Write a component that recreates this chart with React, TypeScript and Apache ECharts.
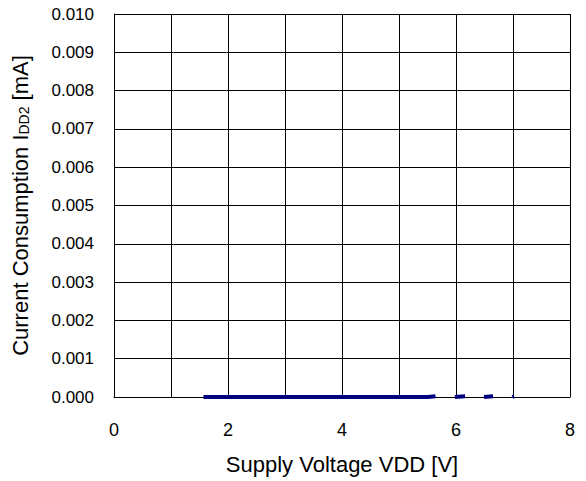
import React, { useEffect, useRef } from "react";
import * as echarts from "echarts";

const voltage = [1.57, 2, 3, 4, 5, 5.5, 5.64, null, 5.98, 6.16, null, 6.49, 6.65, null, 6.99, 7.02];
const current = [0, 0, 0, 0, 0, 0, 0.00002, null, 0, 0.00002, null, 0, 0.00002, null, 0, 0.00002];

export default function App() {
  const ref = useRef<HTMLDivElement>(null);
  useEffect(() => {
    const chart = echarts.init(ref.current!, null, { renderer: "svg" });
    const data = voltage.map((v, i) => (v === null ? [null, null] : [v, current[i]]));
    const font = "'Liberation Sans', Arial, sans-serif";
    chart.setOption({
      animation: false,
      backgroundColor: "#ffffff",
      grid: { left: 114, right: 16, top: 14, bottom: 84 },
      xAxis: {
        type: "value",
        min: 0,
        max: 8,
        interval: 1,
        name: "Supply Voltage VDD [V]",
        nameLocation: "middle",
        nameGap: 56,
        nameTextStyle: { fontFamily: font, fontSize: 22, color: "#000" },
        axisLine: { show: true, lineStyle: { color: "#000", width: 1 } },
        axisTick: { show: false },
        axisLabel: {
          fontFamily: font,
          fontSize: 18,
          color: "#000",
          margin: 24,
          formatter: (v: number) => (v % 2 === 0 ? String(v) : ""),
        },
        splitLine: { show: true, lineStyle: { color: "#000", width: 1 } },
      },
      yAxis: {
        type: "value",
        min: 0,
        max: 0.01,
        interval: 0.001,
        name: "{a|Current Consumption I}{s|DD2}{a| [mA]}",
        nameLocation: "middle",
        nameGap: 83,
        nameTextStyle: {
          fontFamily: font,
          fontSize: 22,
          color: "#000",
          rich: {
            a: { fontFamily: font, fontSize: 22, color: "#000" },
            s: { fontFamily: font, fontSize: 14, color: "#000", verticalAlign: "bottom", padding: [5, 0, 0, 0] },
          },
        },
        axisLine: { show: true, lineStyle: { color: "#000", width: 1 } },
        axisTick: { show: false },
        axisLabel: {
          fontFamily: font,
          fontSize: 17,
          color: "#000",
          margin: 20,
          formatter: (v: number) => v.toFixed(3),
        },
        splitLine: { show: true, lineStyle: { color: "#000", width: 1 } },
      },
      series: [
        {
          type: "line",
          data,
          showSymbol: false,
          connectNulls: false,
          clip: false,
          lineStyle: { color: "#000080", width: 4 },
          itemStyle: { color: "#000080" },
        },
      ],
    });
    return () => chart.dispose();
  }, []);
  return <div ref={ref} style={{ position: "fixed", left: 0, top: 0, width: 586, height: 481 }} />;
}
